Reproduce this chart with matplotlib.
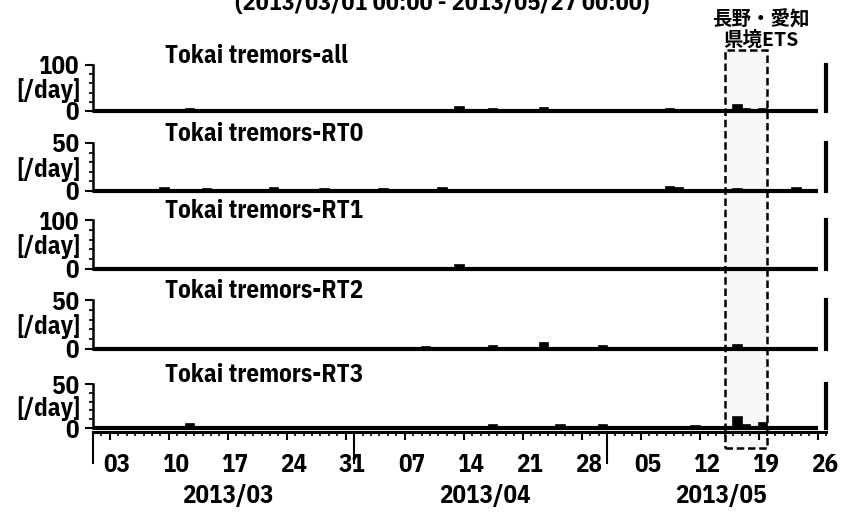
import datetime as dt

import matplotlib
matplotlib.use("Agg")
import matplotlib.pyplot as plt
import matplotlib.dates as mdates
from matplotlib.lines import Line2D
from matplotlib.patches import Rectangle
from matplotlib.ticker import FixedLocator, MultipleLocator, NullFormatter
from matplotlib.transforms import blended_transform_factory

plt.rcParams["font.family"] = ["IBM Plex Sans Condensed", "DejaVu Sans"]
plt.rcParams["font.weight"] = "bold"

# ---------------------------------------------------------------- data
period_title = "(2013/03/01 00:00 - 2013/05/27 00:00)"
period_start = "2013-03-01"
period_end = "2013-05-27"

panel_titles = ["Tokai tremors-all", "Tokai tremors-RT0", "Tokai tremors-RT1",
                "Tokai tremors-RT2", "Tokai tremors-RT3"]
panel_ymax = [100, 50, 100, 50, 50]

# daily tremor counts [/day]
all_days = ["2013-03-12", "2013-03-19", "2013-03-22", "2013-04-13", "2013-04-17",
            "2013-04-23", "2013-05-08", "2013-05-16", "2013-05-17", "2013-05-19",
            "2013-05-23"]
all_counts = [4, 3, 2, 8, 5, 6, 5, 13, 4, 5, 3]

rt0_days = ["2013-03-09", "2013-03-14", "2013-03-22", "2013-03-28", "2013-04-04",
            "2013-04-11", "2013-05-08", "2013-05-09", "2013-05-16", "2013-05-23"]
rt0_counts = [3, 2, 3, 2, 2, 3, 4, 3, 2, 3]

rt1_days = ["2013-04-13", "2013-04-20", "2013-05-16"]
rt1_counts = [9, 2, 2]

rt2_days = ["2013-04-09", "2013-04-17", "2013-04-23", "2013-04-30", "2013-05-16"]
rt2_counts = [2, 3, 6, 3, 4]

rt3_days = ["2013-03-12", "2013-04-17", "2013-04-25", "2013-04-30", "2013-05-11",
            "2013-05-16", "2013-05-17", "2013-05-19"]
rt3_counts = [4, 3, 3, 3, 2, 12, 3, 6]

series_days = [all_days, rt0_days, rt1_days, rt2_days, rt3_days]
series_counts = [all_counts, rt0_counts, rt1_counts, rt2_counts, rt3_counts]

ets_start = "2013-05-15"
ets_end = "2013-05-20"
ets_label_lines = ["長野・愛知", "県境ETS"]

week_ticks = ["2013-03-03", "2013-03-10", "2013-03-17", "2013-03-24", "2013-03-31",
              "2013-04-07", "2013-04-14", "2013-04-21", "2013-04-28", "2013-05-05",
              "2013-05-12", "2013-05-19", "2013-05-26"]
week_labels = ["03", "10", "17", "24", "31", "07", "14", "21", "28", "05", "12", "19", "26"]

month_starts = ["2013-03-01", "2013-04-01", "2013-05-01"]
month_labels = ["2013/03", "2013/04", "2013/05"]


def dnum(s):
    return mdates.date2num(dt.datetime.strptime(s, "%Y-%m-%d"))


# ---------------------------------------------------------------- layout
W_PX, H_PX = 854, 512
fig = plt.figure(figsize=(W_PX / 100, H_PX / 100), dpi=100)

LEFT_PX, RIGHT_PX = 93, 826
panel_px = [(65, 111), (143, 191), (220, 269), (300, 349), (384, 428)]
FS = 18

x0, x1 = dnum(period_start), dnum(period_end)
last_day = x1 - 1


def fx(px):
    return px / W_PX


def fy(py):
    return 1 - py / H_PX


axes = []
for i, (top, bot) in enumerate(panel_px):
    ax = fig.add_axes([fx(LEFT_PX), fy(bot), fx(RIGHT_PX - LEFT_PX), (bot - top) / H_PX])
    ax.set_facecolor("none")
    ymax = panel_ymax[i]
    ax.bar([dnum(d) for d in series_days[i]], series_counts[i], width=1.0,
           align="edge", color="black", edgecolor="black", linewidth=1.2)
    ax.set_xlim(x0, x1)
    ax.set_ylim(0, ymax)

    ax.spines["top"].set_visible(False)
    ax.spines["bottom"].set_visible(False)
    ax.spines["left"].set_linewidth(1.8)
    ax.spines["right"].set_linewidth(3.0)

    ax.tick_params(axis="x", which="both", bottom=False, labelbottom=False)
    ax.yaxis.set_major_locator(FixedLocator([0, ymax]))
    ax.yaxis.set_minor_locator(MultipleLocator(ymax / 5))
    ax.set_yticklabels(["0", str(ymax)])
    ax.tick_params(axis="y", which="major", direction="out", length=6, width=1.5,
                   pad=4, labelsize=FS)
    ax.tick_params(axis="y", which="minor", direction="out", length=3, width=1.2)

    # zero line
    ax.plot([x0, last_day], [0, 0], color="black", lw=3.0, solid_capstyle="butt",
            clip_on=False, zorder=3)

    ax.text(-0.017, 0.45, "[/day]", transform=ax.transAxes, ha="right",
            va="center", fontsize=FS)
    fig.text(fx(165), fy(top - 2), panel_titles[i], ha="left", va="baseline",
             fontsize=FS)
    axes.append(ax)

# ---------------------------------------------------------------- date axis
AXIS_PX = 432
ax_x = fig.add_axes([fx(LEFT_PX), fy(AXIS_PX), fx(RIGHT_PX - LEFT_PX), 0.0001])
ax_x.set_facecolor("none")
ax_x.set_xlim(x0, x1)
ax_x.set_yticks([])
for side in ("top", "left", "right"):
    ax_x.spines[side].set_visible(False)
ax_x.spines["bottom"].set_linewidth(2.2)
ax_x.xaxis.set_major_locator(FixedLocator([dnum(d) for d in week_ticks]))
ax_x.xaxis.set_minor_locator(mdates.DayLocator())
ax_x.xaxis.set_major_formatter(NullFormatter())
ax_x.tick_params(axis="x", which="major", direction="out", length=6, width=1.5)
ax_x.tick_params(axis="x", which="minor", direction="out", length=3, width=1.2)

xfig = blended_transform_factory(ax_x.transData, fig.transFigure)

for d, lab in zip(week_ticks, week_labels):
    fig.text(dnum(d) + 0.8, fy(472), lab, transform=xfig, ha="center",
             va="baseline", fontsize=FS)

month_ends = month_starts[1:] + [period_end]
for s, e, lab in zip(month_starts, month_ends, month_labels):
    fig.add_artist(Line2D([dnum(s), dnum(s)], [fy(AXIS_PX), fy(463)], transform=xfig,
                          color="black", lw=1.5))
    fig.text((dnum(s) + dnum(e)) / 2 + 0.5, fy(503), lab, transform=xfig, ha="center",
             va="baseline", fontsize=FS)

# ---------------------------------------------------------------- ETS window
e0, e1 = dnum(ets_start), dnum(ets_end)
box_top, box_bot = 50, 448
fig.add_artist(Rectangle((e0, fy(box_bot)), e1 - e0, (box_bot - box_top) / H_PX,
                         transform=xfig, facecolor="#f8f8f8", edgecolor="none",
                         zorder=-5))
fig.add_artist(Rectangle((e0, fy(box_bot)), e1 - e0, (box_bot - box_top) / H_PX,
                         transform=xfig, fill=False, edgecolor="black", lw=1.8,
                         linestyle=(0, (3, 1.5)), zorder=5))
ets_x = e1 - 0.75
for line, base in zip(ets_label_lines, [26, 46]):
    fig.text(ets_x, fy(base), line, transform=xfig, ha="center", va="baseline",
             fontsize=14, fontweight="bold",
             family=["Noto Sans CJK JP", "IBM Plex Sans Condensed", "DejaVu Sans"])

# ---------------------------------------------------------------- title
fig.text(fx(442), fy(10), period_title, ha="center", va="baseline", fontsize=17.5)

fig.savefig("out.png", dpi=100)
